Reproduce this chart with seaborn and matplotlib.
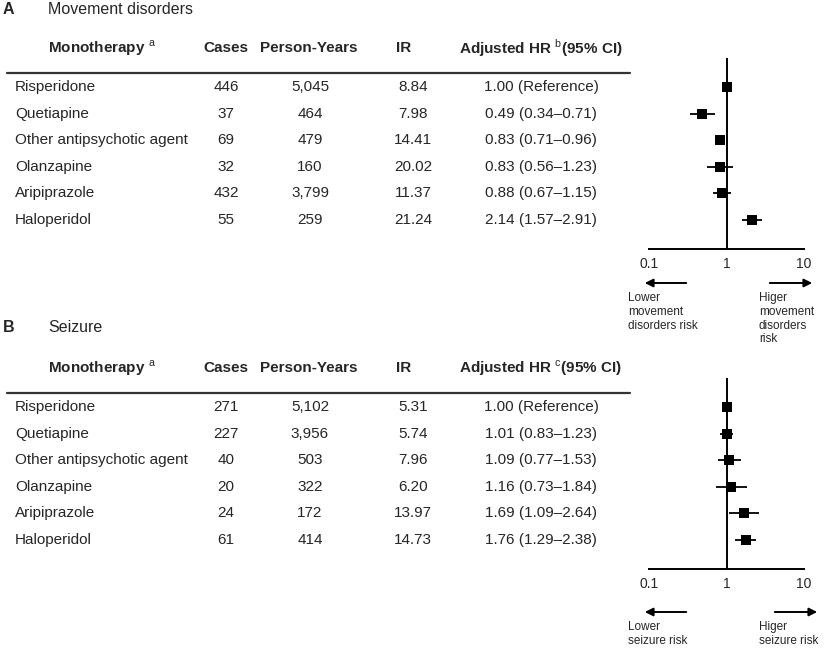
import matplotlib
matplotlib.use('Agg')
import matplotlib.pyplot as plt
import seaborn as sns
import pandas as pd

# data
drugs = ['Risperidone', 'Quetiapine', 'Other antipsychotic agent', 'Olanzapine', 'Aripiprazole', 'Haloperidol']

md_cases = ['446', '37', '69', '32', '432', '55']
md_py = ['5,045', '464', '479', '160', '3,799', '259']
md_ir = ['8.84', '7.98', '14.41', '20.02', '11.37', '21.24']
md_hr = [1.00, 0.49, 0.83, 0.83, 0.88, 2.14]
md_lo = [1.00, 0.34, 0.71, 0.56, 0.67, 1.57]
md_hi = [1.00, 0.71, 0.96, 1.23, 1.15, 2.91]

sz_cases = ['271', '227', '40', '20', '24', '61']
sz_py = ['5,102', '3,956', '503', '322', '172', '414']
sz_ir = ['5.31', '5.74', '7.96', '6.20', '13.97', '14.73']
sz_hr = [1.00, 1.01, 1.09, 1.16, 1.69, 1.76]
sz_lo = [1.00, 0.83, 0.77, 0.73, 1.09, 1.29]
sz_hi = [1.00, 1.23, 1.53, 1.84, 2.64, 2.38]

sns.set_style('white')
plt.rcParams['font.family'] = ['Liberation Sans', 'DejaVu Sans']
plt.rcParams['mathtext.fontset'] = 'custom'
plt.rcParams['mathtext.rm'] = 'Liberation Sans'
plt.rcParams['mathtext.bf'] = 'Liberation Sans:bold'

W, H = 829, 656
fig = plt.figure(figsize=(W / 100, H / 100), dpi=100)


def px(x, y):
    return x / W, 1 - y / H


def txt(x, y, s, **kw):
    kw.setdefault('va', 'center')
    kw.setdefault('fontsize', 11)
    fig.text(*px(x, y), s, **kw)


def panel(y0, title_y, arrow_y, right_x0, letter, title, sup, cases, py, ir, hr, lo, hi,
          lower_txt, higher_txt):
    # title
    txt(3, title_y, letter, fontweight='bold', fontsize=11.5)
    txt(48, title_y, title, fontsize=11.5)
    # header
    hy = y0 + 48
    txt(48, hy, 'Monotherapy $^{\\mathrm{a}}$', fontweight='bold')
    txt(226, hy, 'Cases', fontweight='bold', ha='center')
    txt(309, hy, 'Person-Years', fontweight='bold', ha='center')
    txt(404, hy, 'IR', fontweight='bold', ha='center')
    txt(541, hy, 'Adjusted HR $^{\\mathrm{%s}}$(95%% CI)' % sup, fontweight='bold', ha='center')
    line_y = y0 + 73
    fig.add_artist(plt.Line2D([7 / W, 630 / W], [1 - line_y / H] * 2, color='#333333', lw=1.6))

    rows = [y0 + 87 + 26.6 * i for i in range(len(drugs))]
    for i, ry in enumerate(rows):
        txt(15, ry, drugs[i])
        txt(226, ry, cases[i], ha='center')
        txt(310, ry, py[i], ha='center')
        txt(413, ry, ir[i], ha='center')
        if lo[i] == hi[i]:
            s = '%.2f (Reference)' % hr[i]
        else:
            s = '%.2f (%.2f\u2013%.2f)' % (hr[i], lo[i], hi[i])
        txt(541, ry, s, ha='center')

    # forest plot
    top, bot = y0 + 58, y0 + 249
    ax = fig.add_axes([649 / W, 1 - bot / H, (804 - 649) / W, (bot - top) / H])
    df = pd.DataFrame({'row': range(len(drugs)), 'hr': hr, 'lo': lo, 'hi': hi})
    ax.hlines(df['row'], df['lo'], df['hi'], color='black', lw=1.3)
    sns.scatterplot(data=df, x='hr', y='row', marker='s', s=45, color='black',
                    edgecolor='black', linewidth=0, ax=ax, zorder=3)
    ax.axvline(1, color='black', lw=1.4)
    ax.set_xscale('log')
    ax.set_xlim(0.1, 10)
    sp = 26.6
    ax.set_ylim(5 + (bot - rows[-1]) / sp, -(rows[0] - top) / sp)
    for s in ['left', 'right', 'top']:
        ax.spines[s].set_visible(False)
    ax.spines['bottom'].set_linewidth(1.4)
    ax.spines['bottom'].set_color('black')
    ax.set_xticks([0.1, 1, 10], ['0.1', '1', '10'])
    ax.minorticks_off()
    ax.set_yticks([])
    ax.tick_params(axis='x', direction='in', length=4, width=1.4, labelsize=10, pad=6)
    ax.set_xlabel('')
    ax.set_ylabel('')
    ax.patch.set_alpha(0)

    # arrows
    fig.add_artist(matplotlib.patches.FancyArrowPatch(px(689, arrow_y), px(642, arrow_y), arrowstyle='-|>',
                                                      mutation_scale=12, color='black', lw=1.4))
    fig.add_artist(matplotlib.patches.FancyArrowPatch(px(right_x0, arrow_y), px(right_x0 + 48, arrow_y),
                                                      arrowstyle='-|>', mutation_scale=12, color='black', lw=1.4))
    txt(628, arrow_y + 9, lower_txt, va='top', fontsize=8.5, linespacing=1.2)
    txt(759, arrow_y + 9, higher_txt, va='top', fontsize=8.5, linespacing=1.2)


panel(0, 10, 283, 767, 'A', 'Movement disorders', 'b', md_cases, md_py, md_ir, md_hr, md_lo, md_hi,
      'Lower\nmovement\ndisorders risk', 'Higer\nmovement\ndisorders\nrisk')
panel(320, 327, 612, 772, 'B', 'Seizure', 'c', sz_cases, sz_py, sz_ir, sz_hr, sz_lo, sz_hi,
      'Lower\nseizure risk', 'Higer\nseizure risk')

fig.savefig('out.png', dpi=100)
